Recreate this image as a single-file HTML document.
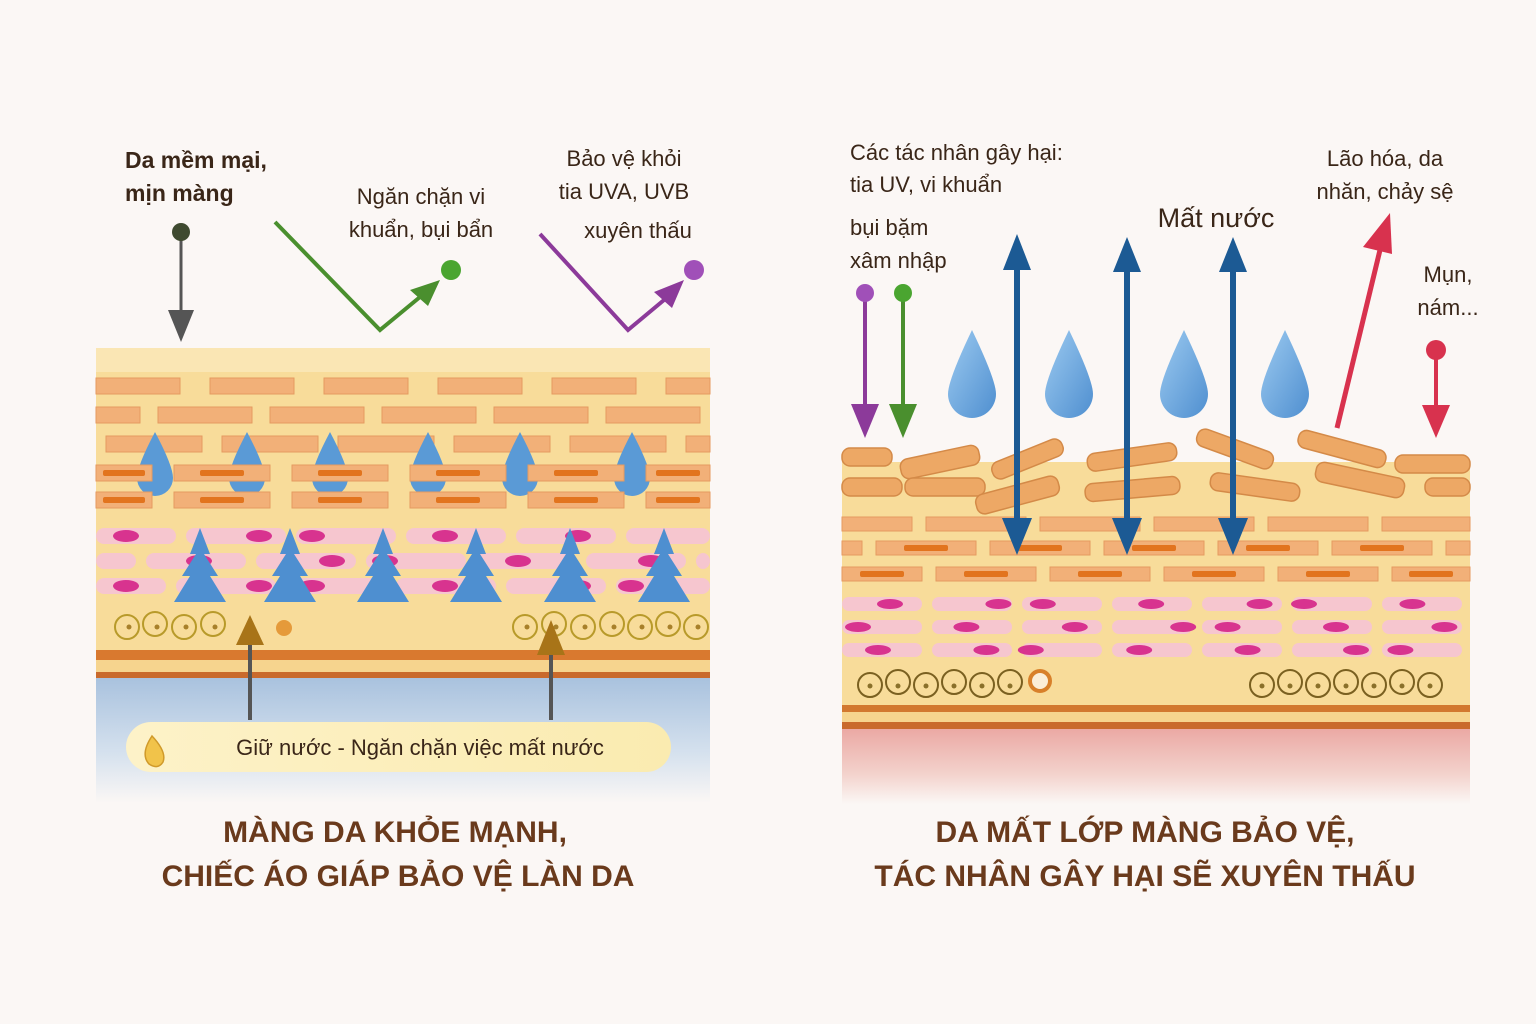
<!DOCTYPE html>
<html><head><meta charset="utf-8">
<style>
html,body{margin:0;padding:0;background:#fbf7f5;}
svg{display:block;}
text{font-family:"Liberation Sans","DejaVu Sans",sans-serif;}
</style></head><body>
<svg id="s" width="1536" height="1024" viewBox="0 0 1536 1024" xmlns="http://www.w3.org/2000/svg">
<defs>
<linearGradient id="blueL" x1="0" y1="0" x2="0" y2="1"><stop offset="0" stop-color="#a9c2de"/><stop offset="0.6" stop-color="#d5e1ee"/><stop offset="1" stop-color="#fbf7f5"/></linearGradient>
<linearGradient id="pinkR" x1="0" y1="0" x2="0" y2="1"><stop offset="0" stop-color="#eba9a4"/><stop offset="0.6" stop-color="#f3d2cc"/><stop offset="1" stop-color="#fbf7f5"/></linearGradient>
<linearGradient id="drop" x1="0" y1="0" x2="1" y2="1"><stop offset="0" stop-color="#9ccaf0"/><stop offset="1" stop-color="#4f8fd0"/></linearGradient>
<linearGradient id="pill" x1="0" y1="0" x2="1" y2="0"><stop offset="0" stop-color="#fdf2c8"/><stop offset="1" stop-color="#faebb0"/></linearGradient>
</defs>
<rect width="1536" height="1024" fill="#fbf7f5"/>

<!-- LEFT PANEL -->
<rect x="96" y="348" width="614" height="332" fill="#f8dc9a"/>
<rect x="96" y="348" width="614" height="24" fill="#faE6b4"/>
<rect x="96" y="650" width="614" height="10" fill="#d9792f"/>
<rect x="96" y="660" width="614" height="12" fill="#f6d48e"/>
<rect x="96" y="672" width="614" height="6" fill="#c96a2c"/>
<rect x="96" y="678" width="614" height="125" fill="url(#blueL)"/>
<g id="leftCells"></g>

<!-- RIGHT PANEL -->
<rect x="842" y="462" width="628" height="243" fill="#f8dc9a"/>
<rect x="842" y="705" width="628" height="7" fill="#d2782f"/>
<rect x="842" y="712" width="628" height="10" fill="#f6d48e"/>
<rect x="842" y="722" width="628" height="7" fill="#c96a2c"/>
<rect x="842" y="729" width="628" height="75" fill="url(#pinkR)"/>
<g id="rightCells"></g>

<!-- Left arrows -->
<line x1="181" y1="234" x2="181" y2="312" stroke="#555" stroke-width="3"/>
<polygon points="168,310 194,310 181,342" fill="#555"/>
<circle cx="181" cy="232" r="9" fill="#3f4a30"/>
<polyline points="275,222 380,330 420,297" fill="none" stroke="#4a8f2e" stroke-width="4"/>
<polygon points="410,290 440,280 428,306" fill="#4a8f2e"/>
<circle cx="451" cy="270" r="10" fill="#4aa530"/>
<polyline points="540,234 628,330 664,300" fill="none" stroke="#8c3a9a" stroke-width="4"/>
<polygon points="654,292 684,280 672,308" fill="#8c3a9a"/>
<circle cx="694" cy="270" r="10" fill="#a050b8"/>
<line x1="250" y1="640" x2="250" y2="720" stroke="#555" stroke-width="4"/>
<polygon points="236,645 264,645 250,615" fill="#a87418"/>
<line x1="551" y1="640" x2="551" y2="720" stroke="#555" stroke-width="4"/>
<polygon points="537,655 565,655 551,620" fill="#a87418"/>

<rect x="126" y="722" width="545" height="50" rx="25" fill="url(#pill)"/>
<path d="M152 736 q-12 18 -3 28 q9 6 14 -2 q4 -10 -11 -26z" fill="#f1c34a" stroke="#d09a2a" stroke-width="1.5"/>
<text x="420" y="755" font-size="22" text-anchor="middle" fill="#3a2618">Giữ nước - Ngăn chặn việc mất nước</text>

<!-- Left labels -->
<g font-size="23" font-weight="bold" fill="#3a2618">
<text x="125" y="168">Da mềm mại,</text><text x="125" y="201">mịn màng</text>
</g>
<g font-size="22" fill="#3a2618" text-anchor="middle">
<text x="421" y="204">Ngăn chặn vi</text><text x="421" y="237">khuẩn, bụi bẩn</text>
<text x="624" y="166">Bảo vệ khỏi</text><text x="624" y="199">tia UVA, UVB</text><text x="638" y="238">xuyên thấu</text>
</g>

<!-- Right labels -->
<g font-size="22" fill="#3a2618">
<text x="850" y="160">Các tác nhân gây hại:</text><text x="850" y="192">tia UV, vi khuẩn</text>
<text x="850" y="235">bụi bặm</text><text x="850" y="268">xâm nhập</text>
<text x="1385" y="166" text-anchor="middle">Lão hóa, da</text><text x="1385" y="199" text-anchor="middle">nhăn, chảy sệ</text>
<text x="1448" y="282" text-anchor="middle">Mụn,</text><text x="1448" y="315" text-anchor="middle">nám...</text>
</g>
<text x="1216" y="227" font-size="27" fill="#3a2618" text-anchor="middle">Mất nước</text>

<!-- Right arrows -->
<line x1="865" y1="294" x2="865" y2="408" stroke="#8c3a9a" stroke-width="4"/>
<polygon points="851,404 879,404 865,438" fill="#8c3a9a"/>
<circle cx="865" cy="293" r="9" fill="#a050b8"/>
<line x1="903" y1="294" x2="903" y2="408" stroke="#4a8f2e" stroke-width="4"/>
<polygon points="889,404 917,404 903,438" fill="#4a8f2e"/>
<circle cx="903" cy="293" r="9" fill="#4aa530"/>
<g fill="#1c5a94" stroke="#1c5a94">
<line x1="1017" y1="260" x2="1017" y2="525" stroke-width="6"/><polygon points="1003,270 1031,270 1017,234" stroke="none"/><polygon points="1002,518 1032,518 1017,555" stroke="none"/>
<line x1="1127" y1="265" x2="1127" y2="525" stroke-width="6"/><polygon points="1113,272 1141,272 1127,237" stroke="none"/><polygon points="1112,518 1142,518 1127,555" stroke="none"/>
<line x1="1233" y1="265" x2="1233" y2="525" stroke-width="6"/><polygon points="1219,272 1247,272 1233,237" stroke="none"/><polygon points="1218,518 1248,518 1233,555" stroke="none"/>
</g>
<line x1="1337" y1="428" x2="1380" y2="250" stroke="#d8324e" stroke-width="5"/>
<polygon points="1363,247 1392,254 1390,213" fill="#d8324e"/>
<line x1="1436" y1="352" x2="1436" y2="410" stroke="#d8324e" stroke-width="4"/>
<polygon points="1422,405 1450,405 1436,438" fill="#d8324e"/>
<circle cx="1436" cy="350" r="10" fill="#d8324e"/>

<g id="drops"></g>

<!-- Titles -->
<g font-size="30" font-weight="bold" fill="#6a3a1c" text-anchor="middle">
<text x="395" y="842">MÀNG DA KHỎE MẠNH,</text>
<text x="398" y="886">CHIẾC ÁO GIÁP BẢO VỆ LÀN DA</text>
<text x="1145" y="842">DA MẤT LỚP MÀNG BẢO VỆ,</text>
<text x="1145" y="886">TÁC NHÂN GÂY HẠI SẼ XUYÊN THẤU</text>
</g>
</svg>
<script>
var NS="http://www.w3.org/2000/svg";
function el(p,t,a){var e=document.createElementNS(NS,t);for(var k in a)e.setAttribute(k,a[k]);p.appendChild(e);return e;}
var L=document.getElementById('leftCells'),R=document.getElementById('rightCells'),D=document.getElementById('drops');
function bricks(g,x0,x1,y,h,w,gap,off,inner){
 for(var x=x0-off;x<x1;x+=w+gap){var a=Math.max(x,x0),b=Math.min(x+w,x1);if(b-a<4)continue;
  el(g,'rect',{x:a,y:y,width:b-a,height:h,fill:'#f2b078',stroke:'#e59a60','stroke-width':1});
  if(inner&&b-a>30){var bw=Math.min(44,b-a-14),cx=(a+b)/2;el(g,'rect',{x:cx-bw/2,y:y+h/2-3,width:bw,height:6,rx:2,fill:'#e2741e'});}}
}
function pinks(g,x0,x1,y,h,w,gap,off,nucOff){
 var i=0;for(var x=x0-off;x<x1;x+=w+gap,i++){var a=Math.max(x,x0),b=Math.min(x+w,x1);if(b-a<4)continue;
  el(g,'rect',{x:a,y:y,width:b-a,height:h,rx:h/2,fill:'#f6c6cf'});
  var nx=x+w*((nucOff+i*0.23)%0.8+0.1);if(nx>x0+8&&nx<x1-8)el(g,'ellipse',{cx:nx,cy:y+h/2,rx:13,ry:h/2-2,fill:'#d8338f'});}
}
// left
bricks(L,96,710,378,16,84,30,0,false);
bricks(L,96,710,407,16,94,18,50,false);
bricks(L,96,710,436,16,96,20,-10,false);
[155,247,330,428,520,632].forEach(function(x){el(L,'path',{d:'M'+x+' 432 q-18 34 -18 46 a18 18 0 0 0 36 0 q0 -12 -18 -46z',fill:'#5a9ad6'});});
bricks(L,96,710,465,16,96,22,40,true);
bricks(L,96,710,492,16,96,22,40,true);
pinks(L,96,710,528,16,100,10,20,0.4);
pinks(L,96,710,553,16,100,10,60,0.2);
pinks(L,96,710,578,16,100,10,30,0.5);
[200,290,383,476,570,664].forEach(function(x){el(L,'path',{d:'M'+x+' 528 l-10 26 l6 0 l-14 22 l8 0 l-16 26 l52 0 l-16 -26 l8 0 l-14 -22 l6 0 z',fill:'#4e8fd0'});});
[127,155,184,213,525,554,583,612,640,668,696].forEach(function(x,i){el(L,'circle',{cx:x,cy:627+(i%2?-3:0),r:12,fill:'none',stroke:'#b89a2a','stroke-width':2});el(L,'circle',{cx:x+2,cy:627,r:2.5,fill:'#a8802a'});});
el(L,'circle',{cx:284,cy:628,r:8,fill:'#e59a3a'});
// right cells scattered
var sc=[[842,448,50,18,0],[900,452,80,20,-12],[990,450,75,18,-22],[1087,448,90,18,-8],[1195,440,80,18,20],[1297,440,90,18,15],[1395,455,75,18,0],[842,478,60,18,0],[905,478,80,18,0],[975,485,85,20,-15],[1085,480,95,18,-5],[1210,478,90,18,8],[1315,470,90,20,12],[1425,478,45,18,0]];
sc.forEach(function(c){el(R,'rect',{x:c[0],y:c[1],width:c[2],height:c[3],rx:8,fill:'#eda865',stroke:'#d48a48','stroke-width':1.5,transform:'rotate('+c[4]+' '+(c[0]+c[2]/2)+' '+(c[1]+c[3]/2)+')'});});
bricks(R,842,1470,517,14,100,14,30,false);
bricks(R,842,1470,541,14,100,14,80,true);
bricks(R,842,1470,567,14,100,14,20,true);
pinks(R,842,1470,597,14,80,10,0,0.5);
pinks(R,842,1470,620,14,80,10,0,0.1);
pinks(R,842,1470,643,14,80,10,0,0.35);
[870,898,926,954,982,1010,1262,1290,1318,1346,1374,1402,1430].forEach(function(x,i){el(R,'circle',{cx:x,cy:685+(i%2?-3:0),r:12,fill:'none',stroke:'#7a6020','stroke-width':2});el(R,'circle',{cx:x,cy:686,r:2.5,fill:'#8a702a'});});
el(R,'circle',{cx:1040,cy:681,r:10,fill:'#fbeed8',stroke:'#d8802a','stroke-width':4});
[972,1069,1184,1285].forEach(function(x){el(D,'path',{d:'M'+x+' 330 q-24 50 -24 64 a24 24 0 0 0 48 0 q0 -14 -24 -64z',fill:'url(#drop)'});});
</script>
</body></html>
